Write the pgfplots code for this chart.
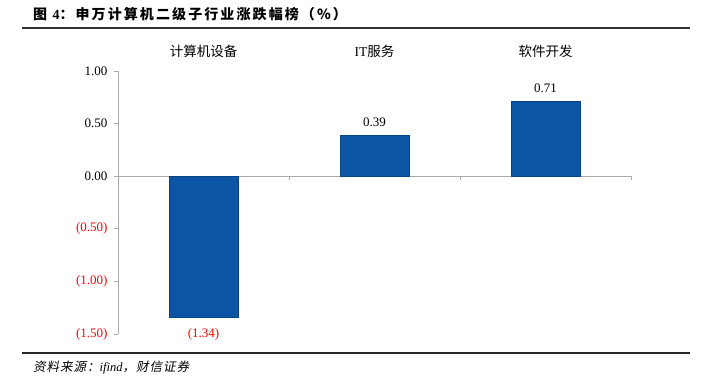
\documentclass[border=0pt]{standalone}
\usepackage{pgfplots}
\pgfplotsset{compat=1.18}
\usepackage{fontspec}
\setmainfont{Liberation Serif}
\newfontfamily\cjk{Noto Sans CJK SC}
\newfontfamily\cjktitle[LetterSpace=15]{Noto Sans CJK SC}
\newfontfamily\cjksrc[FakeSlant=0.2,LetterSpace=8]{Noto Sans CJK SC}
\definecolor{barblue}{RGB}{12,84,164}
\definecolor{axgray}{RGB}{170,170,170}
\definecolor{lblred}{RGB}{255,0,0}
\begin{document}
\begin{tikzpicture}
\path[use as bounding box] (0pt,0pt) rectangle (704pt,-384pt);
% title and rules
\node[anchor=west,inner sep=0pt] at (33pt,-14pt) {\fontsize{14}{16}\selectfont\bfseries\cjktitle 图 {\rmfamily\bfseries 4}：申万计算机二级子行业涨跌幅榜（\%）};
\draw[line width=1.2pt,black!80] (22pt,-28pt) -- (690pt,-28pt);
\draw[line width=1.6pt,black!85] (22pt,-353pt) -- (690pt,-353pt);
\node[anchor=west,inner sep=0pt] at (33pt,-368pt) {\fontsize{12.5}{14}\selectfont\cjksrc 资料来源：{\rmfamily\itshape ifind}，财信证券};
\begin{axis}[
  at={(118pt,-334pt)}, anchor=south west,
  scale only axis, width=513pt, height=263pt,
  xmin=-0.5, xmax=2.5, ymin=-1.5, ymax=1,
  axis x line*=top, axis y line*=left,
  x axis line style={draw=none},
  y axis line style={draw=axgray, line width=0.8pt},
  xtick={0,1,2},
  xticklabels={{\cjk 计算机设备},{IT\cjk 服务},{\cjk 软件开发}},
  xtick style={draw=none},
  xticklabel style={font=\fontsize{13.5}{15}\selectfont, yshift=6pt},
  ytick={-1.5,-1,-0.5,0,0.5,1},
  yticklabels={\textcolor{lblred}{(1.50)},\textcolor{lblred}{(1.00)},\textcolor{lblred}{(0.50)},0.00,0.50,1.00},
  yticklabel style={font=\fontsize{13}{15}\selectfont, xshift=-3pt},
  ytick style={draw=axgray, line width=0.8pt},
  tick align=outside, major tick length=4pt,
  ybar, bar width=69pt, bar shift=0pt,
  nodes near coords,
  point meta=explicit symbolic,
  clip=false,
]
\draw[axgray, line width=0.8pt] (axis cs:-0.5,0) -- (axis cs:2.5,0);
\pgfplotsinvokeforeach{0.5,1.5,2.5}{
  \draw[axgray, line width=0.8pt] (axis cs:#1,0) -- ([yshift=-4pt]axis cs:#1,0);
}
\addplot[fill=barblue, draw=barblue!80!black, line width=0.3pt,
  every node near coord/.append style={font=\fontsize{13}{15}\selectfont, anchor=south, yshift=5pt}] coordinates {
  (1,0.39) [0.39]
  (2,0.71) [0.71]
};
\addplot[fill=barblue, draw=barblue!80!black, line width=0.3pt,
  every node near coord/.append style={font=\fontsize{13}{15}\selectfont, anchor=north, yshift=-8pt}] coordinates {
  (0,-1.34) [\textcolor{lblred}{(1.34)}]
};
\end{axis}
\end{tikzpicture}
\end{document}
